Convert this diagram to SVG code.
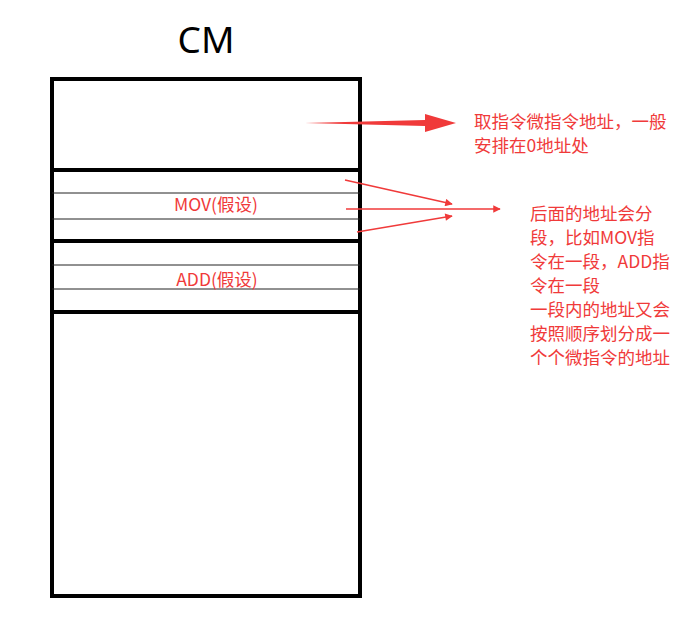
<svg xmlns="http://www.w3.org/2000/svg" width="693" height="617" viewBox="0 0 693 617">
<style>
.thick{stroke:#000;stroke-width:4;fill:none}
.thin{stroke:#222;stroke-width:1}
.r{fill:#f03a3a;font-family:"Noto Sans CJK SC","Noto Sans",sans-serif;font-size:17.5px}
.ar{stroke:#f03a3a;stroke-width:1.5;fill:none}
</style>
<defs><marker id="h" viewBox="0 0 10 10" refX="9" refY="5" markerWidth="7" markerHeight="5" orient="auto" markerUnits="strokeWidth"><path d="M0,0L10,5L0,10z" fill="#f03a3a"/></marker></defs>
<rect width="693" height="617" fill="#fff"/>
<text x="206" y="53" text-anchor="middle" font-family="Noto Sans,sans-serif" font-size="37">CM</text>
<g id="cm">
<rect x="52" y="79" width="308" height="517" class="thick"/>
<line x1="52" y1="170" x2="360" y2="170" class="thick"/>
<line x1="52" y1="241" x2="360" y2="241" class="thick"/>
<line x1="52" y1="312" x2="360" y2="312" class="thick"/>
<line x1="52" y1="193" x2="360" y2="193" class="thin"/>
<line x1="52" y1="219" x2="360" y2="219" class="thin"/>
<line x1="52" y1="265" x2="360" y2="265" class="thin"/>
<line x1="52" y1="289" x2="360" y2="289" class="thin"/>
<text x="216" y="211" text-anchor="middle" class="r">MOV(假设)</text>
<text x="217" y="286" text-anchor="middle" class="r">ADD(假设)</text>
</g>
<g id="connectors">
<path d="M305,123 L425,120 L425,114 L456,123 L425,132 L425,126 Z" fill="#f03a3a"/>
<line x1="345" y1="180" x2="452" y2="204" class="ar" marker-end="url(#h)"/>
<line x1="346" y1="209" x2="500" y2="209" class="ar" marker-end="url(#h)"/>
<line x1="357" y1="232" x2="452" y2="216" class="ar" marker-end="url(#h)"/>
</g>
<g id="note1">
<text x="474" y="128" class="r">取指令微指令地址，一般</text>
<text x="474" y="152" class="r">安排在0地址处</text>
</g>
<g id="note2" class="r">
<text x="530" y="220">后面的地址会分</text>
<text x="530" y="244">段，比如MOV指</text>
<text x="530" y="268">令在一段，ADD指</text>
<text x="530" y="292">令在一段</text>
<text x="530" y="316">一段内的地址又会</text>
<text x="530" y="340">按照顺序划分成一</text>
<text x="530" y="364">个个微指令的地址</text>
</g>
</svg>
